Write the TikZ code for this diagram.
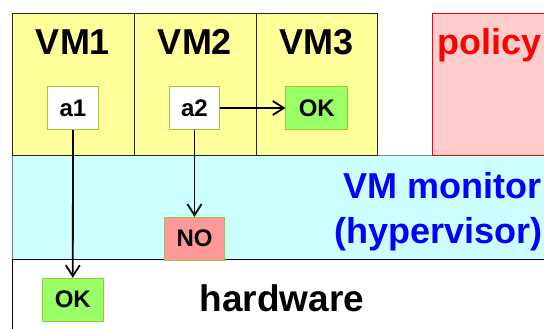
\documentclass[tikz,border=0pt]{standalone}
\usepackage{fontspec}
\setmainfont{Liberation Sans}
\usetikzlibrary{arrows.meta}
\definecolor{vmyellow}{HTML}{FFFF99}
\definecolor{moncyan}{HTML}{CCFFFF}
\definecolor{polpink}{HTML}{FFCCCC}
\definecolor{okgreen}{HTML}{99FF66}
\definecolor{nored}{HTML}{FF9999}
\definecolor{boxedge}{HTML}{99CC33}
\definecolor{montext}{HTML}{0000FF}
\definecolor{poltext}{HTML}{FF0000}
\tikzset{
  vmbox/.style={draw=black!85, line width=1pt, fill=vmyellow, anchor=north west, inner sep=0pt, minimum width=122pt, minimum height=141.7pt},
  bigtext/.style={font=\fontsize{36}{40}\selectfont\bfseries, inner sep=0pt, anchor=base},
  smallbox/.style={draw=boxedge, line width=1pt, inner sep=0pt, minimum height=42.6pt, font=\fontsize{24}{28}\selectfont\bfseries},
  flow/.style={line width=1.8pt, -{Straight Barb[length=11pt,width=14pt,line width=1.8pt]}}
}
\begin{document}
\begin{tikzpicture}[x=1pt,y=-1pt]
\useasboundingbox (0,0) rectangle (544,329);
\clip (0,0) rectangle (544,329);
% hardware layer
\path[draw=black, line width=1pt, fill=white] (12,259) rectangle (570,345);
\node[bigtext, font=\fontsize{37}{40}\selectfont\bfseries, anchor=base west] (hw) at (199.5,311.7) {hardware};
% monitor layer
\path[draw=black!50, line width=1pt, fill=moncyan] (12,155) rectangle (570,259);
\draw[black, line width=1pt] (12,259) -- (570,259);
\node[bigtext, text=montext, anchor=base east] (mon1) at (542,198) {VM monitor};
\node[bigtext, text=montext, anchor=base east] (mon2) at (543,243) {(hypervisor)};
% policy
\path[draw=red, line width=1pt, fill=polpink] (432.3,13.3) rectangle (570,155);
\node[bigtext, text=poltext, anchor=base west] (pol) at (437.5,55) {policy};
% VMs
\node[vmbox] (vm1) at (12,13.3) {};
\node[vmbox] (vm2) at (134,13.3) {};
\node[vmbox, minimum width=121pt] (vm3) at (256,13.3) {};
\node[bigtext] (l1) at (73,55) {VM1};
\node[bigtext] (l2) at (195,55) {VM2};
\node[bigtext] (l3) at (316.5,55) {VM3};
% small boxes
\node[smallbox, fill=white, minimum width=50.6pt] (a1) at (73,108) {a1};
\node[smallbox, fill=white, minimum width=50.4pt] (a2) at (194.5,108) {a2};
\node[smallbox, fill=okgreen, minimum width=61.7pt] (ok3) at (316.8,108) {OK};
\node[smallbox, fill=nored, minimum width=60.4pt, minimum height=42.7pt] (no) at (194.5,238.7) {NO};
\node[smallbox, fill=okgreen, minimum width=61pt, minimum height=42.7pt] (okb) at (72.8,299.7) {OK};
% connectors
\draw[flow] (a1.south) -- (okb.north);
\draw[flow] (a2.south) -- (no.north);
\draw[flow] (a2.east) -- (ok3.west);
\end{tikzpicture}
\end{document}
